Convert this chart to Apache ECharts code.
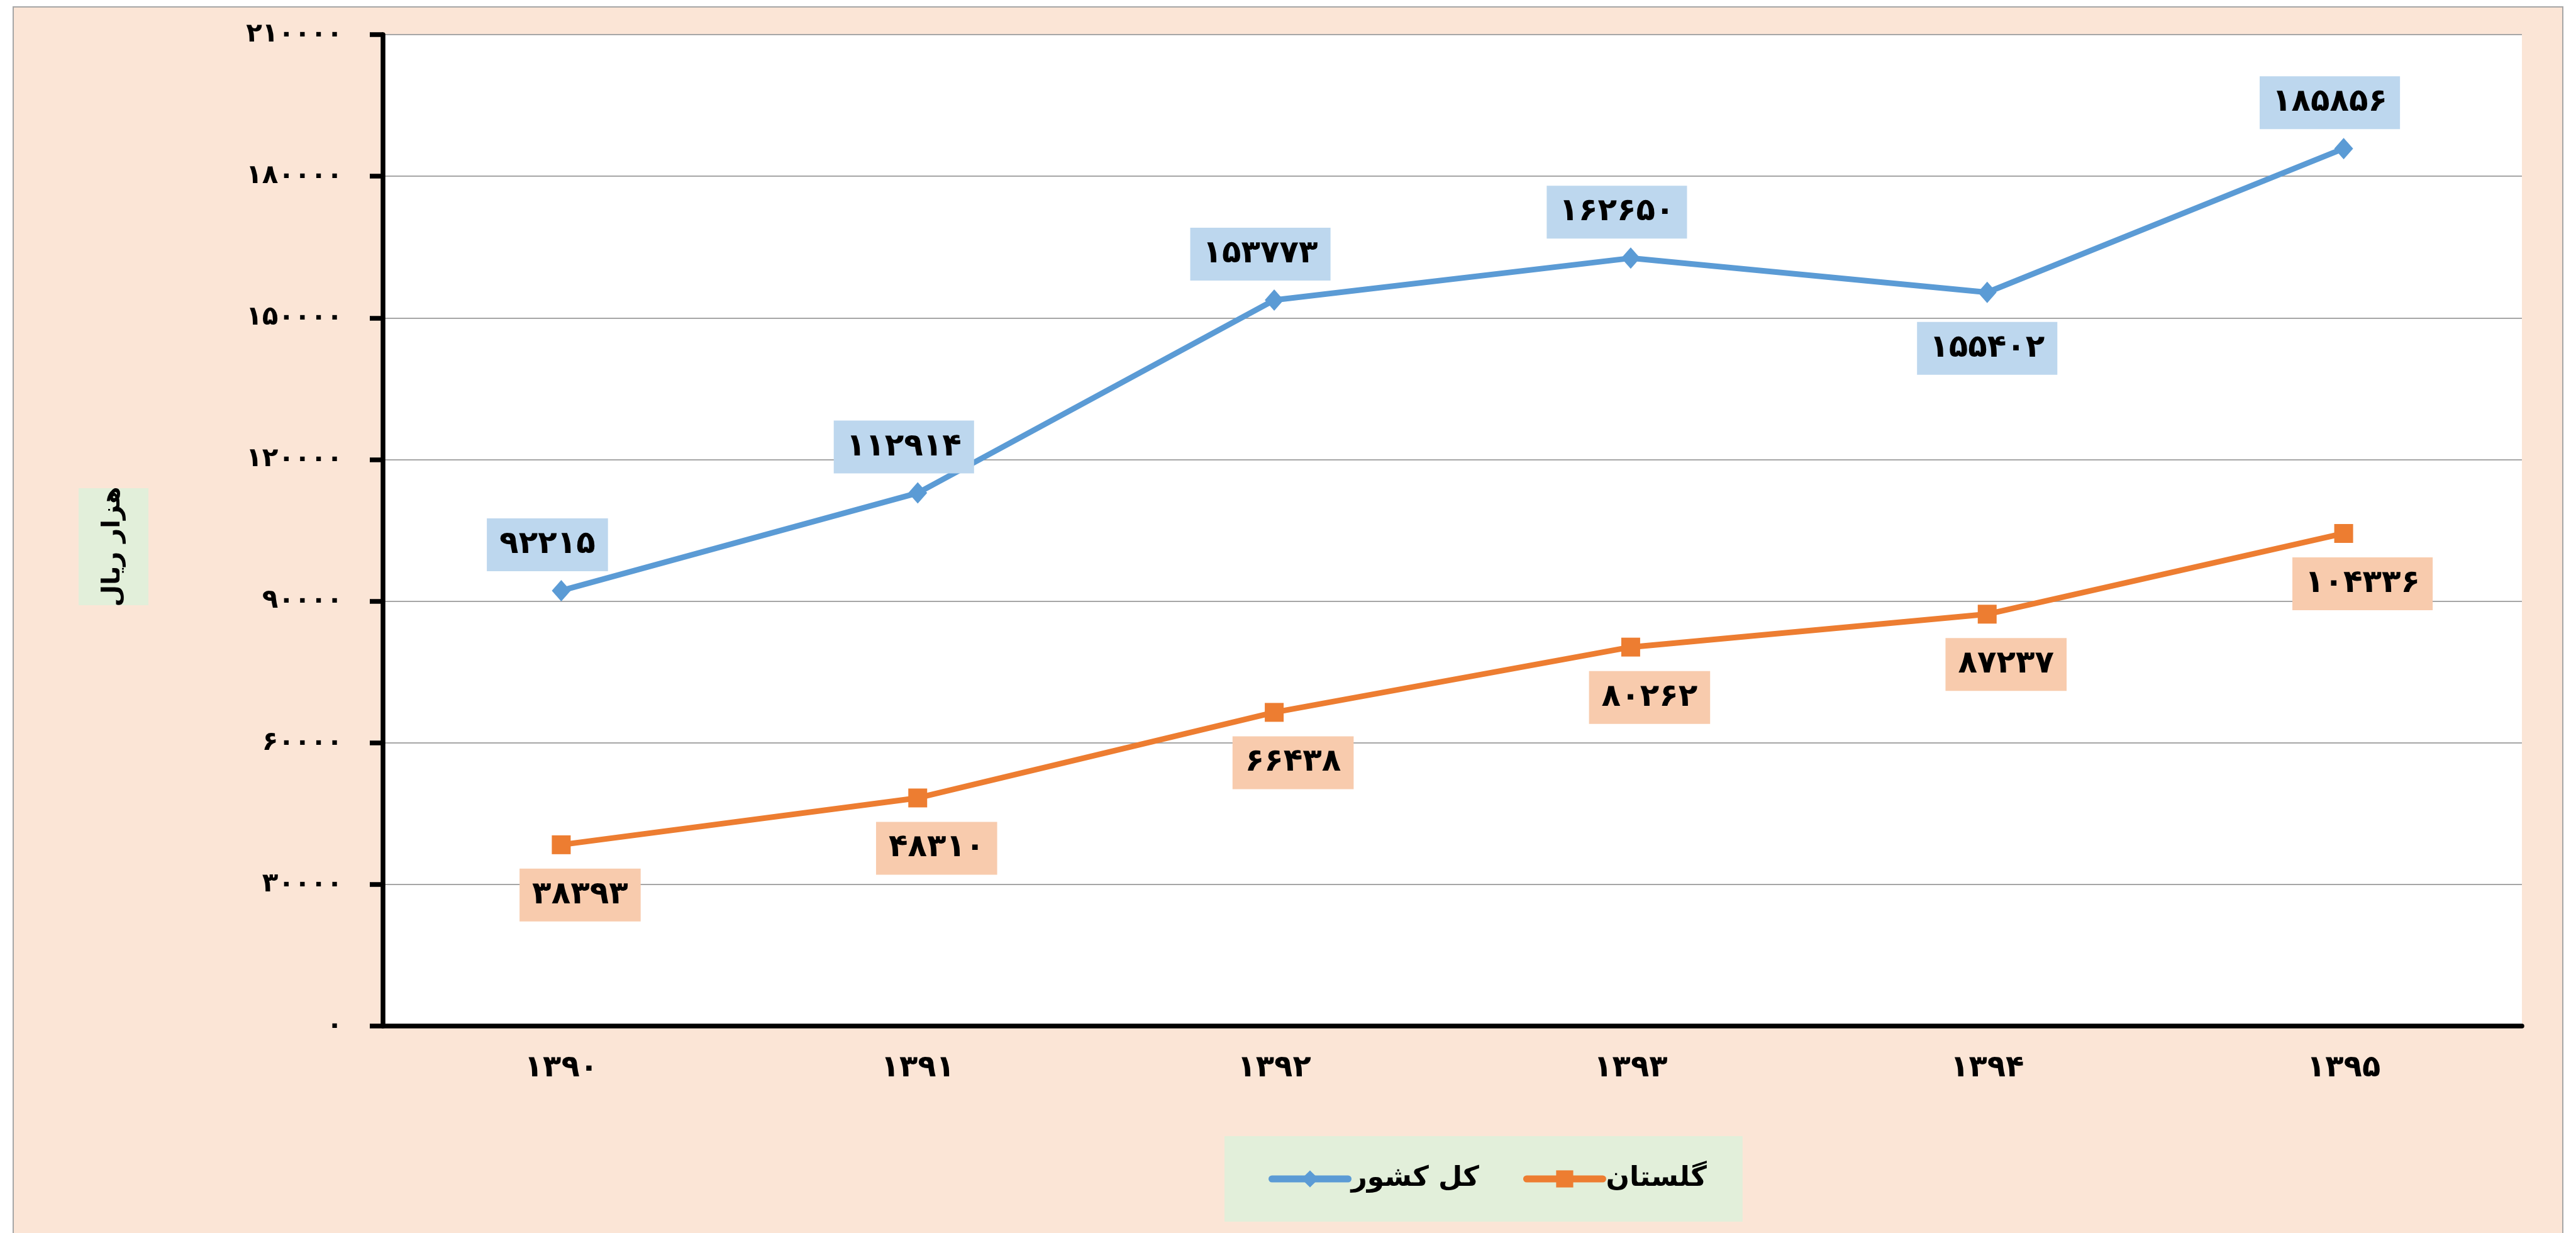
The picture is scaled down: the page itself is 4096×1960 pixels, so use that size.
<!DOCTYPE html>
<html style="height: 100%">
<head>
    <meta charset="utf-8">
</head>
<body style="height: 100%; margin: 0; background: #fff">
<div id="container" style="width: 4096px; height: 1960px"></div>
<script type="text/javascript" src="https://cdn.jsdelivr.net/npm/echarts@6/dist/echarts.min.js"></script>
<script type="text/javascript">
  // سال‌ها و مقادیر (هزار ریال)
  const years = [1390, 1391, 1392, 1393, 1394, 1395];
  const totalValues = [92215, 112914, 153773, 162650, 155402, 185856];   // کل کشور
  const golestanValues = [38393, 48310, 66438, 80262, 87237, 104336];   // گلستان
  const seriesNames = ['کل کشور', 'گلستان'];
  const yTicks = { min: 0, max: 210000, interval: 30000 };
  const yName = 'هزار ریال';

  const faDigits = '۰۱۲۳۴۵۶۷۸۹';
  const toFa = (v) => String(v).replace(/\d/g, d => faDigits[d]);

  const font = 'DejaVu Sans';
  var dom = document.getElementById("container");
  var myChart = echarts.init(dom);
  var option;

  function dataLabel(bg) {
    return {
      show: true,
      formatter: (p) => toFa(p.value),
      fontFamily: font,
      fontSize: 50,
      fontWeight: 'bold',
      color: '#000',
      lineHeight: 50,
      backgroundColor: bg,
      padding: [17, 20]
    };
  }

  option = {
    backgroundColor: '#fff',
    animation: false,
    textStyle: { fontFamily: font },
    graphic: [
      {
        type: 'rect',
        z: -10,
        shape: { x: 21, y: 11, width: 4054, height: 1960 },
        style: { fill: '#FBE5D6', stroke: '#A6A6A6', lineWidth: 2 }
      },
      // جعبه عنوان محور عمودی
      {
        type: 'rect',
        z: 5,
        shape: { x: 125, y: 776, width: 111, height: 186 },
        style: { fill: '#E2EFDA' }
      },
      {
        type: 'text',
        z: 6,
        x: 180,
        y: 869,
        rotation: Math.PI / 2,
        style: {
          text: yName,
          fontFamily: font,
          fontSize: 40,
          fontWeight: 'bold',
          fill: '#000',
          align: 'center',
          verticalAlign: 'middle'
        }
      }
    ],
    grid: {
      left: 609,
      right: 86,
      top: 55,
      bottom: 329,
      show: true,
      backgroundColor: '#fff',
      borderWidth: 0
    },
    legend: {
      data: seriesNames,
      left: 1947,
      top: 1806,
      padding: [46, 57, 46, 70],
      itemGap: 70,
      itemWidth: 121,
      itemHeight: 34,
      backgroundColor: '#E2EFDA',
      lineStyle: { width: 11, cap: 'round' },
      textStyle: { fontFamily: font, fontSize: 44, fontWeight: 'bold', color: '#000' }
    },
    xAxis: {
      type: 'category',
      data: years.map(toFa),
      boundaryGap: true,
      axisLine: { lineStyle: { color: '#000', width: 7.5 } },
      axisTick: { length: 16, lineStyle: { color: '#000', width: 7.5 } },
      axisLabel: { fontFamily: font, fontSize: 48, fontWeight: 'bold', color: '#000', margin: 44 }
    },
    yAxis: {
      type: 'value',
      min: yTicks.min,
      max: yTicks.max,
      interval: yTicks.interval,
      axisLine: { show: true, lineStyle: { color: '#000', width: 7.5 } },
      axisTick: { show: true, length: 21, lineStyle: { color: '#000', width: 7.5 } },
      splitLine: { lineStyle: { color: '#A6A6A6', width: 2 } },
      axisLabel: {
        fontFamily: font,
        fontSize: 42,
        fontWeight: 'bold',
        color: '#000',
        margin: 64,
        formatter: (v) => toFa(v)
      }
    },
    series: [
      {
        name: seriesNames[0],
        type: 'line',
        data: totalValues.map((v, i) => i === 4 ? { value: v, label: { position: 'bottom', offset: [0, 0], distance: 30 } } : v),
        symbol: 'diamond',
        symbolSize: [30, 34],
        showAllSymbol: true,
        itemStyle: { color: '#5B9BD5' },
        lineStyle: { color: '#5B9BD5', width: 9 },
        label: Object.assign(dataLabel('#BDD7EE'), { position: 'top', distance: 14, offset: [-22, 0] })
      },
      {
        name: seriesNames[1],
        type: 'line',
        data: golestanValues,
        symbol: 'rect',
        symbolSize: 30,
        showAllSymbol: true,
        itemStyle: { color: '#ED7D31' },
        lineStyle: { color: '#ED7D31', width: 9 },
        label: Object.assign(dataLabel('#F8CBAD'), { position: 'bottom', distance: 23, offset: [30, 0] })
      }
    ]
  };

  if (option && typeof option === 'object') {
    myChart.setOption(option);
  }
</script>
</body>
</html>
